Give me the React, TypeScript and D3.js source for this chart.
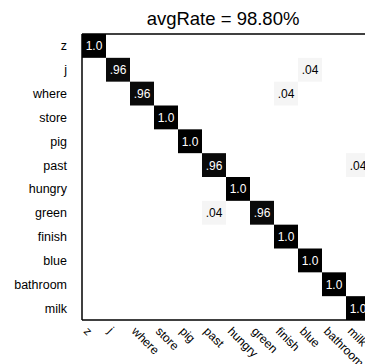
import React from 'react';
import { scaleBand, scaleLinear } from 'd3';

const labels = ['z', 'j', 'where', 'store', 'pig', 'past', 'hungry', 'green', 'finish', 'blue', 'bathroom', 'milk'];
const diagonal = [1.0, 0.96, 0.96, 1.0, 1.0, 0.96, 1.0, 0.96, 1.0, 1.0, 1.0, 1.0];
// confusions: [true label, predicted label, rate]
const confusions: [string, string, number][] = [
  ['j', 'blue', 0.04],
  ['where', 'finish', 0.04],
  ['past', 'milk', 0.04],
  ['green', 'past', 0.04],
];
const avgRate = '98.80%';

const margin = { top: 34, left: 82 };
const cellW = 24;
const plotH = 286;

const fmt = (v: number) => (v >= 1 ? '1.0' : v.toFixed(2).replace(/^0/, ''));

const App = () => {
  // cells as a flat list
  const cells = [
    ...labels.map((l, i) => ({ row: l, col: l, v: diagonal[i] })),
    ...confusions.map(([row, col, v]) => ({ row, col, v })),
  ];

  const x = scaleBand().domain(labels).range([margin.left, margin.left + cellW * labels.length]);
  const y = scaleBand().domain(labels).range([margin.top, margin.top + plotH]);
  // gray_r colormap
  const shade = scaleLinear<string>().domain([0, 1]).range(['#ffffff', '#000000']);
  const font = '"Liberation Sans", Arial, sans-serif';
  const bottom = margin.top + plotH;

  return (
    <svg width={365} height={364} style={{ position: 'absolute', left: 0, top: 0 }}>
      <rect width={365} height={364} fill="#fff" />
      <text x={223} y={25} textAnchor="middle" fontFamily={font} fontSize={18.5}>
        avgRate = {avgRate}
      </text>
      <g className="cells">
        {cells.map((c, i) => (
          <g key={i}>
            <rect x={x(c.col)} y={y(c.row)} width={x.bandwidth()} height={y.bandwidth()} fill={shade(c.v)} />
            <text
              x={(x(c.col) || 0) + x.bandwidth() / 2}
              y={(y(c.row) || 0) + y.bandwidth() / 2 + 4.5}
              textAnchor="middle"
              fontFamily={font}
              fontSize={12}
              fill={c.v > 0.5 ? '#fff' : '#000'}
            >
              {fmt(c.v)}
            </text>
          </g>
        ))}
      </g>
      <g className="yAxis">
        {labels.map((l) => (
          <text key={l} x={67} y={(y(l) || 0) + y.bandwidth() / 2 + 4.5} textAnchor="end" fontFamily={font} fontSize={12.5}>
            {l}
          </text>
        ))}
      </g>
      <g className="xAxis">
        {labels.map((l) => {
          const px = (x(l) || 0) + x.bandwidth() / 2 - 11;
          const py = bottom + 12;
          return (
            <text key={l} x={px} y={py} transform={`rotate(45, ${px}, ${py})`} fontFamily={font} fontSize={12}>
              {l}
            </text>
          );
        })}
      </g>
      <g stroke="#000" strokeWidth={1.5} fill="none">
        <line x1={margin.left} x2={margin.left} y1={margin.top} y2={bottom} />
        <line x1={margin.left} x2={370} y1={bottom} y2={bottom} />
        <line x1={margin.left} x2={370} y1={margin.top} y2={margin.top} />
      </g>
    </svg>
  );
};

export default App;
